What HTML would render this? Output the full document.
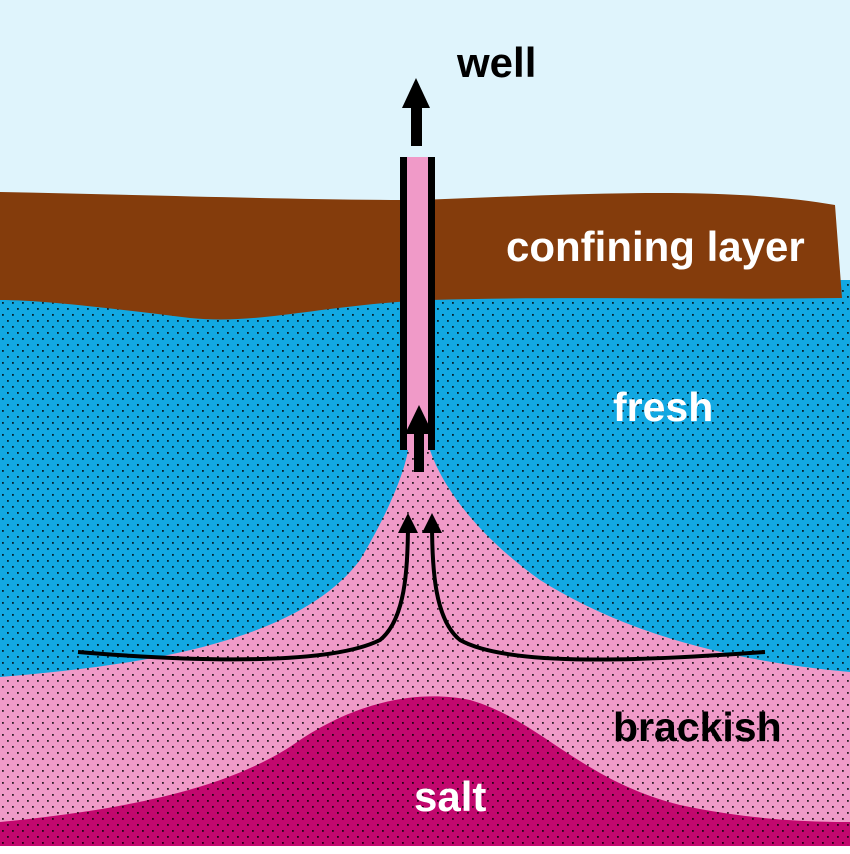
<!DOCTYPE html>
<html><head><style>
html,body{margin:0;padding:0;background:#fff}
svg{display:block}
text{font-family:"Liberation Sans",sans-serif;font-weight:bold}
</style></head><body>
<svg width="850" height="854" viewBox="0 0 850 854" xmlns="http://www.w3.org/2000/svg">
<defs>
<pattern id="dots" width="10" height="12" patternUnits="userSpaceOnUse">
<rect x="2" y="2" width="1.8" height="1.8" fill="#000"/>
<rect x="7" y="8" width="1.8" height="1.8" fill="#000"/>
</pattern>
</defs>
<rect width="850" height="854" fill="#dff4fc"/>
<!-- fresh -->
<rect x="0" y="280" width="850" height="574" fill="#12a8e2"/>
<!-- pink -->
<path d="M0 677 C150 665 300 640 360 560 C390 510 405 470 408 450 L430 450 C440 480 470 530 540 580 C620 630 720 660 850 672 L850 854 L0 854 Z" fill="#f09ac8"/>
<!-- salt -->
<path d="M0 822 C120 810 230 790 300 740 C360 700 420 690 470 700 C540 720 580 780 680 805 C750 820 810 822 850 822 L850 854 L0 854 Z" fill="#c2086e"/>
<rect x="0" y="280" width="850" height="566" fill="url(#dots)" opacity="0.8"/>
<!-- brown -->
<path d="M0 192 C150 195 300 200 420 200 C560 195 720 185 835 205 L842 298 C700 300 560 296 430 300 C320 305 260 325 190 318 C110 308 40 300 0 300 Z" fill="#843c0c"/>
<rect x="0" y="846" width="850" height="8" fill="#fff"/>
<!-- well -->
<rect x="400" y="157" width="35" height="293" fill="#f09ac8"/>
<rect x="400" y="157" width="7" height="293" fill="#000"/>
<rect x="428" y="157" width="7" height="293" fill="#000"/>
<!-- top arrow -->
<rect x="411" y="106" width="11" height="40" fill="#000"/>
<polygon points="416,78 430,108 402,108" fill="#000"/>
<!-- inner arrow -->
<rect x="414" y="430" width="10" height="42" fill="#000"/>
<polygon points="419,405 433,434 405,434" fill="#000"/>
<!-- flow curves -->
<g fill="none" stroke="#000" stroke-width="4">
<path d="M78 652 C200 662 330 665 380 640 C405 620 408 570 408 522"/>
<path d="M765 652 C650 660 510 668 460 640 C435 620 432 570 432 522"/>
</g>
<polygon points="408,513 398,533 418,533" fill="#000"/>
<polygon points="432,513 422,533 442,533" fill="#000"/>
<text x="457" y="77" font-size="42" fill="#000">well</text>
<text x="506" y="261" font-size="42" fill="#fff">confining layer</text>
<text x="613" y="421" font-size="41" fill="#fff">fresh</text>
<text x="613" y="741" font-size="41" fill="#000">brackish</text>
<text x="414" y="811" font-size="42" fill="#fff">salt</text>
</svg>
</body></html>
